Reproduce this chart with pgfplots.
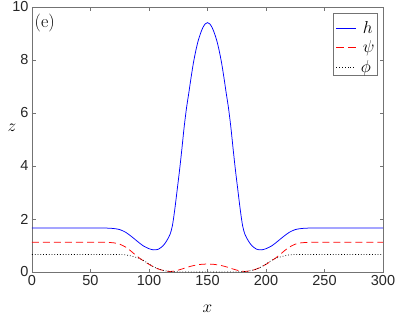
\documentclass[border=0pt]{standalone}
\usepackage{pgfplots}
\pgfplotsset{compat=1.18}
\usepackage{fontspec}
\newfontfamily\arial{Liberation Sans}
\definecolor{lgblue}{rgb}{0.01,0.01,0.99}
\definecolor{lgred}{rgb}{0.99,0.02,0.01}
\definecolor{lgblack}{rgb}{0.02,0.02,0.03}
\newcommand\lgstrut{\rule[-6.5pt]{0pt}{24.5pt}}
\newcommand\dotk{\rule[4.6pt]{0.8pt}{0.8pt}\hspace{2pt}}
\begin{document}
\begin{tikzpicture}
\begin{axis}[
 at={(0,0)}, anchor=south west,
 scale only axis, width=351pt, height=265pt,
 xmin=0,xmax=300,ymin=0,ymax=10,
 xtick={0,50,...,300}, ytick={0,2,...,10},
 tick align=inside, major tick length=3.5pt,
 axis line style={black!55, line width=0.5pt},
 tick style={black!55, line width=0.5pt},
 /pgf/number format/assume math mode=true,
 tick label style={font=\arial\fontsize{14.5}{14.5}\selectfont, text=black!85},
 xlabel={$x$}, ylabel={$z$},
 label style={font=\fontsize{16}{16}\selectfont},
 xlabel style={at={(axis description cs:0.5,-0.138)}, anchor=center},
 ylabel style={at={(axis description cs:-0.057,0.543)}, anchor=center, rotate=-90},
 legend style={at={(0.984,0.976)}, anchor=north east, draw=black!55,
   inner xsep=2.7pt, inner ysep=1.75pt, row sep=0pt, nodes={inner sep=0pt},
   font=\fontsize{16}{16}\selectfont},
 legend cell align=left,
]
\addplot[blue, line width=0.75pt, smooth, tension=0.5, forget plot] coordinates {
(0,1.66) (20,1.66) (40,1.66) (55,1.66) (60,1.66) (65,1.655) (70,1.64) (75,1.6) (80,1.5) (85,1.34) (90,1.16) (95,0.99) (100,0.88) (104,0.835) (108,0.86) (112,0.99) (115,1.17) (118,1.42) (120,1.75) (122,2.35) (124,3.07) (126,3.8) (128,4.6) (130,5.45) (132,6.17) (134,6.75) (136,7.35) (138,7.9) (140,8.35) (142,8.72) (144,9.0) (146,9.22) (148,9.36) (150,9.41)
(152,9.36) (154,9.22) (156,9.0) (158,8.72) (160,8.35) (162,7.9) (164,7.35) (166,6.75) (168,6.17) (170,5.45) (172,4.6) (174,3.8) (176,3.07) (178,2.35) (180,1.75) (182,1.42) (185,1.17) (188,0.99) (192,0.86) (196,0.835) (200,0.88) (205,0.99) (210,1.16) (215,1.34) (220,1.5) (225,1.6) (230,1.64) (235,1.655) (240,1.66) (245,1.66) (260,1.66) (280,1.66) (300,1.66)
};
\addplot[red, line width=0.75pt, dash pattern=on 7pt off 4pt, smooth, tension=0.5, forget plot] coordinates {
(0,1.12) (20,1.12) (40,1.12) (55,1.12) (60,1.12) (65,1.115) (70,1.10) (75,1.05) (80,0.94) (84,0.81) (88,0.66) (92,0.52) (96,0.40) (100,0.29) (105,0.17) (110,0.085) (115,0.035) (118,0.02) (121,0.03) (124,0.06) (128,0.11) (132,0.17) (136,0.22) (140,0.26) (145,0.29) (150,0.30)
(155,0.29) (160,0.26) (164,0.22) (168,0.17) (172,0.11) (176,0.06) (179,0.03) (182,0.02) (185,0.035) (190,0.085) (195,0.17) (200,0.29) (204,0.40) (208,0.52) (212,0.66) (216,0.81) (220,0.94) (225,1.05) (230,1.10) (235,1.115) (240,1.12) (245,1.12) (260,1.12) (280,1.12) (300,1.12)
};
\addplot[black, line width=0.7pt, dash pattern=on 0.8pt off 2pt, smooth, tension=0.5, forget plot] coordinates {
(0,0.66) (20,0.66) (40,0.66) (60,0.66) (70,0.66) (78,0.655) (82,0.63) (86,0.59) (90,0.54) (94,0.47) (97,0.39) (100,0.30) (105,0.17) (110,0.085) (115,0.035) (120,0.012) (125,0.006) (135,0.004) (150,0.004)
(165,0.004) (175,0.006) (180,0.012) (185,0.035) (190,0.085) (195,0.17) (200,0.30) (203,0.39) (206,0.47) (210,0.54) (214,0.59) (218,0.63) (222,0.655) (230,0.66) (240,0.66) (260,0.66) (280,0.66) (300,0.66)
};
\addlegendimage{empty legend}
\addlegendentry{\lgstrut{\color{lgblue}\rule[4.6pt]{20pt}{0.75pt}}\hspace{6.5pt}$h$\hspace{4pt}}
\addlegendimage{empty legend}
\addlegendentry{\lgstrut{\color{lgred}\rule[4.6pt]{8pt}{0.8pt}\hspace{4pt}\rule[4.6pt]{8pt}{0.8pt}}\hspace{6.5pt}$\psi$\hspace{4pt}}
\addlegendimage{empty legend}
\addlegendentry{\lgstrut{\color{lgblack}\dotk\dotk\dotk\dotk\dotk\dotk\dotk}\hspace{5pt}$\phi$\hspace{4pt}}
\node[anchor=north west, inner sep=0pt, font=\fontsize{18}{18}\selectfont, xshift=2.5pt, yshift=-7pt] at (rel axis cs:0,1) {(e)};
\end{axis}
\pgfresetboundingbox
\path[use as bounding box] (-32pt,-45pt) rectangle (367pt,272pt);
\end{tikzpicture}
\end{document}
